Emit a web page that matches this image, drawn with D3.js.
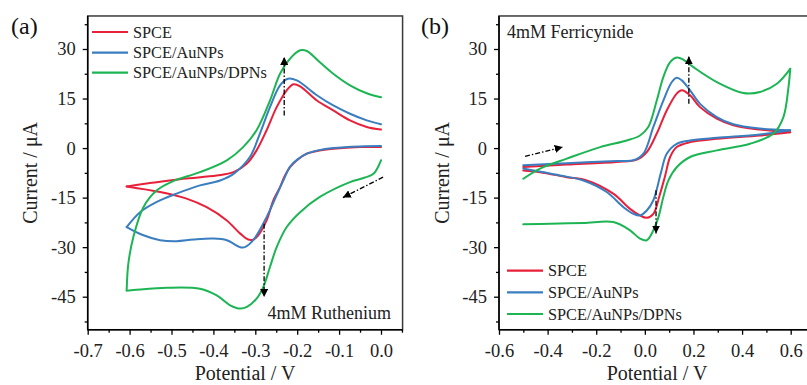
<!DOCTYPE html>
<html><head><meta charset="utf-8">
<script src="https://cdn.jsdelivr.net/npm/d3@7"></script>
<style>body{margin:0;background:#fff}</style>
</head><body><svg id="c" width="807" height="385"></svg>
<script>
// ---------- data ----------
const seriesNames = ["SPCE", "SPCE/AuNPs", "SPCE/AuNPs/DPNs"];
const seriesColors = ["#E8203A", "#3A7EC0", "#1DB554"];
const yTicks = [-45, -30, -15, 0, 15, 30];
const yMinor = [-52.5, -37.5, -22.5, -7.5, 7.5, 22.5, 37.5];
const aXTicks = [-0.7, -0.6, -0.5, -0.4, -0.3, -0.2, -0.1, 0.0];
const aXMinor = [-0.65, -0.55, -0.45, -0.35, -0.25, -0.15, -0.05, 0.05];
const bXTicks = [-0.6, -0.4, -0.2, 0.0, 0.2, 0.4, 0.6];
const bXMinor = [-0.5, -0.3, -0.1, 0.1, 0.3, 0.5, 0.7];

// Panel (a): Ruthenium  [potential V, current uA]
const aRedCath = [[0.0,0.3],[-0.05,0.3],[-0.114,-0.2],[-0.15,-0.8],[-0.177,-1.7],[-0.2,-3.6],[-0.217,-5.8],[-0.23,-8.5],[-0.241,-11.8],[-0.257,-15.8],[-0.273,-21.9],[-0.293,-26.4],[-0.305,-27.7],[-0.317,-27.7],[-0.336,-25.9],[-0.368,-21.9],[-0.416,-17.9],[-0.464,-15.3],[-0.527,-13.3],[-0.607,-11.6]];
const aRedAnod = [[-0.607,-11.6],[-0.551,-10.6],[-0.472,-9.3],[-0.392,-8.3],[-0.352,-7.3],[-0.32,-4.7],[-0.297,-0.7],[-0.273,5.4],[-0.249,12.4],[-0.225,17.5],[-0.209,19.3],[-0.193,18.7],[-0.153,14.4],[-0.114,11.4],[-0.074,8.4],[-0.034,6.4],[0.0,5.6]];
const aBlueCath = [[0.0,0.6],[-0.05,0.5],[-0.114,0.0],[-0.15,-0.7],[-0.177,-1.7],[-0.2,-3.5],[-0.217,-5.6],[-0.233,-9.8],[-0.25,-14.5],[-0.273,-20.9],[-0.305,-27.9],[-0.325,-30.0],[-0.336,-30.0],[-0.368,-27.9],[-0.4,-27.4],[-0.448,-27.7],[-0.488,-28.2],[-0.527,-27.9],[-0.567,-26.4],[-0.607,-23.9]];
const aBlueAnod = [[-0.607,-23.9],[-0.575,-19.4],[-0.535,-16.3],[-0.488,-13.8],[-0.432,-11.3],[-0.384,-9.8],[-0.352,-7.8],[-0.313,-2.7],[-0.289,4.4],[-0.265,12.4],[-0.241,19.0],[-0.222,21.0],[-0.201,20.5],[-0.153,16.0],[-0.114,12.9],[-0.074,10.4],[-0.034,8.4],[0.0,7.2]];
const aGreenCath = [[0.0,-3.7],[-0.018,-7.8],[-0.04,-9.0],[-0.074,-10.3],[-0.146,-14.8],[-0.193,-19.4],[-0.225,-23.9],[-0.249,-30.0],[-0.265,-36.0],[-0.281,-42.1],[-0.297,-45.6],[-0.32,-48.1],[-0.336,-48.6],[-0.36,-47.6],[-0.392,-44.6],[-0.432,-42.6],[-0.511,-42.3],[-0.6,-43.1],[-0.607,-43.1]];
const aGreenAnod = [[-0.607,-43.1],[-0.603,-35.0],[-0.591,-26.9],[-0.567,-17.9],[-0.535,-12.8],[-0.496,-10.0],[-0.432,-7.3],[-0.368,-3.7],[-0.329,0.3],[-0.297,5.4],[-0.265,14.4],[-0.241,22.5],[-0.217,27.1],[-0.193,29.6],[-0.177,29.4],[-0.146,26.0],[-0.114,22.5],[-0.074,19.0],[-0.034,16.6],[0.0,15.4]];

// Panel (b): Ferricyanide
const bRedAnod = [[-0.5,-5.7],[-0.321,-5.0],[-0.116,-4.2],[-0.033,-3.5],[0.008,-1.2],[0.049,4.4],[0.09,11.4],[0.131,16.5],[0.152,17.5],[0.186,16.0],[0.227,12.4],[0.296,8.9],[0.364,6.9],[0.474,5.6],[0.598,4.8]];
const bRedCath = [[0.598,4.8],[0.474,3.8],[0.296,2.8],[0.186,1.8],[0.131,0.3],[0.104,-2.7],[0.083,-8.5],[0.06,-14.5],[0.035,-19.9],[0.008,-21.1],[-0.02,-20.4],[-0.061,-18.4],[-0.13,-13.8],[-0.239,-9.8],[-0.321,-8.8],[-0.431,-7.3],[-0.5,-6.8]];
const bBlueAnod = [[-0.5,-5.2],[-0.321,-4.6],[-0.116,-3.9],[-0.047,-3.7],[-0.006,-1.7],[0.035,6.4],[0.076,14.4],[0.111,20.0],[0.131,21.3],[0.152,20.5],[0.186,17.5],[0.227,13.4],[0.296,9.4],[0.364,7.2],[0.474,5.9],[0.598,5.4]];
const bBlueCath = [[0.598,5.4],[0.474,4.1],[0.296,3.1],[0.186,2.3],[0.131,1.3],[0.09,-1.7],[0.066,-7.5],[0.035,-15.8],[0.008,-18.9],[-0.02,-20.4],[-0.047,-19.9],[-0.088,-17.9],[-0.157,-13.3],[-0.253,-9.8],[-0.349,-8.3],[-0.5,-6.2]];
const bGreenAnod = [[-0.5,-9.3],[-0.431,-6.2],[-0.321,-3.2],[-0.184,0.3],[-0.074,2.3],[-0.02,3.8],[0.014,6.4],[0.049,14.4],[0.076,21.5],[0.104,26.0],[0.131,27.4],[0.158,26.8],[0.2,24.5],[0.296,20.0],[0.405,16.7],[0.474,17.0],[0.543,19.5],[0.598,24.0]];
const bGreenCath = [[0.598,24.0],[0.591,18.5],[0.57,9.4],[0.529,4.4],[0.433,1.3],[0.296,-0.7],[0.186,-2.7],[0.131,-5.8],[0.097,-9.8],[0.076,-14.8],[0.056,-20.9],[0.035,-24.9],[0.008,-27.9],[-0.02,-27.4],[-0.061,-24.9],[-0.13,-22.4],[-0.253,-22.7],[-0.39,-22.9],[-0.5,-23.1]];

// arrows [x1,y1,x2,y2] (tip at x2,y2)
const aArrows = [[-0.231,9.9,-0.231,27.6],[-0.279,-22.9,-0.279,-45.1],[0.005,-8.8,-0.091,-15.0]];
const bArrows = [[-0.493,-2.5,-0.338,0.3],[0.181,13.4,0.181,27.8],[0.046,-12.8,0.046,-25.9]];

// ---------- drawing ----------
const svg = d3.select("#c");
svg.append("rect").attr("width",807).attr("height",385).attr("fill","#fff");
const defs = svg.append("defs");
defs.append("marker").attr("id","ah").attr("viewBox","0 0 10 10")
  .attr("refX",10).attr("refY",5).attr("markerUnits","userSpaceOnUse")
  .attr("markerWidth",8).attr("markerHeight",8).attr("orient","auto")
  .append("path").attr("d","M0,0 L10,5 L0,10 z").attr("fill","#000");

const FONT = "'Liberation Serif','Times New Roman',serif";

function panel(cfg) {
  const x = d3.scaleLinear().domain(cfg.xDom).range(cfg.xRange);
  const y = d3.scaleLinear().domain([-45, 30]).range([296.7, 49]);
  const g = svg.append("g");
  const left = x(cfg.frameX[0]), right = x(cfg.frameX[1]);
  const top = y(40), bottom = y(-55);

  // curves
  const line = d3.line().x(d => x(d[0])).y(d => y(d[1])).curve(d3.curveCatmullRom.alpha(0.5));
  cfg.curves.forEach((c, i) => {
    c.forEach(branch => {
      g.append("path").datum(branch).attr("d", line)
        .attr("fill","none").attr("stroke", seriesColors[i]).attr("stroke-width",2)
        .attr("stroke-linejoin","round").attr("stroke-linecap","round");
    });
  });

  // arrows
  cfg.arrows.forEach(a => {
    g.append("line").attr("x1",x(a[0])).attr("y1",y(a[1])).attr("x2",x(a[2])).attr("y2",y(a[3]))
      .attr("stroke","#000").attr("stroke-width",1.3).attr("stroke-dasharray","5,2,1.5,2")
      .attr("marker-end","url(#ah)");
  });

  // frame
  g.append("rect").attr("x",left).attr("y",top).attr("width",right-left).attr("height",bottom-top)
    .attr("fill","none").attr("stroke","#3a3a3a").attr("stroke-width",1.5);

  // axes
  const xAxis = d3.axisBottom(x).tickValues(cfg.xTicks).tickSize(5).tickPadding(9)
    .tickSizeOuter(0).tickFormat(d => d.toFixed(1));
  const gx = g.append("g").attr("transform",`translate(0,${bottom})`).call(xAxis);
  const gxm = g.append("g").attr("transform",`translate(0,${bottom})`)
    .call(d3.axisBottom(x).tickValues(cfg.xMinor).tickSize(3).tickSizeOuter(0).tickFormat(""));
  const yAxis = d3.axisLeft(y).tickValues(yTicks).tickSize(5).tickPadding(7)
    .tickSizeOuter(0).tickFormat(d => String(d));
  const gy = g.append("g").attr("transform",`translate(${left},0)`).call(yAxis);
  const gym = g.append("g").attr("transform",`translate(${left},0)`)
    .call(d3.axisLeft(y).tickValues(yMinor).tickSize(3).tickSizeOuter(0).tickFormat(""));
  [gx,gxm,gy,gym].forEach(a => {
    a.select(".domain").remove();
    a.selectAll(".tick line").attr("stroke","#000").attr("stroke-width",1.3);
    a.selectAll("text").attr("font-family",FONT).attr("font-size",18.5).attr("fill","#222");
  });
  g.append("line").attr("x1",left).attr("x2",right).attr("y1",bottom).attr("y2",bottom).attr("stroke","#000").attr("stroke-width",1.5);
  g.append("line").attr("x1",left).attr("x2",left).attr("y1",top).attr("y2",bottom).attr("stroke","#000").attr("stroke-width",1.5);

  // titles
  g.append("text").attr("x",(left + Math.min(right, 815))/2).attr("y",380)
    .attr("text-anchor","middle").attr("font-family",FONT).attr("font-size",20).attr("fill","#222")
    .text("Potential / V");
  g.append("text").attr("transform",`translate(${cfg.yTitleX},${(top+bottom)/2}) rotate(-90)`)
    .attr("text-anchor","middle").attr("font-family",FONT).attr("font-size",20).attr("fill","#222")
    .text("Current / μA");
  g.append("text").attr("x",cfg.labelX).attr("y",34).attr("font-family",FONT).attr("font-size",24)
    .attr("fill","#111").text(cfg.label);

  // legend
  seriesNames.forEach((n, i) => {
    const ly = cfg.legendY[i];
    g.append("line").attr("x1",cfg.legendX).attr("x2",cfg.legendX+36).attr("y1",ly).attr("y2",ly)
      .attr("stroke",seriesColors[i]).attr("stroke-width",2.2);
    g.append("text").attr("x",cfg.legendX+41).attr("y",ly+5.5).attr("font-family",FONT)
      .attr("font-size",16.3).attr("fill","#222").text(n);
  });

  // annotation
  g.append("text").attr("x",cfg.note.x).attr("y",cfg.note.y).attr("text-anchor",cfg.note.anchor)
    .attr("font-family",FONT).attr("font-size",18).attr("fill","#222").text(cfg.note.text);
}

panel({
  xDom:[-0.7,0.0], xRange:[87.7,381], frameX:[-0.7,0.0515],
  xTicks:aXTicks, xMinor:aXMinor,
  curves:[[aRedCath,aRedAnod],[aBlueCath,aBlueAnod],[aGreenCath,aGreenAnod]],
  arrows:aArrows, yTitleX:37, label:"(a)", labelX:11,
  legendX:92, legendY:[32,52.7,72.7],
  note:{x:391,y:319,anchor:"end",text:"4mM Ruthenium"}
});
panel({
  xDom:[-0.6,0.6], xRange:[499,790.7], frameX:[-0.6,0.7],
  xTicks:bXTicks, xMinor:bXMinor,
  curves:[[bRedAnod,bRedCath],[bBlueAnod,bBlueCath],[bGreenAnod,bGreenCath]],
  arrows:bArrows, yTitleX:449, label:"(b)", labelX:421,
  legendX:507, legendY:[270.7,292.3,314],
  note:{x:507,y:38,anchor:"start",text:"4mM Ferricynide"}
});
</script></body></html>
